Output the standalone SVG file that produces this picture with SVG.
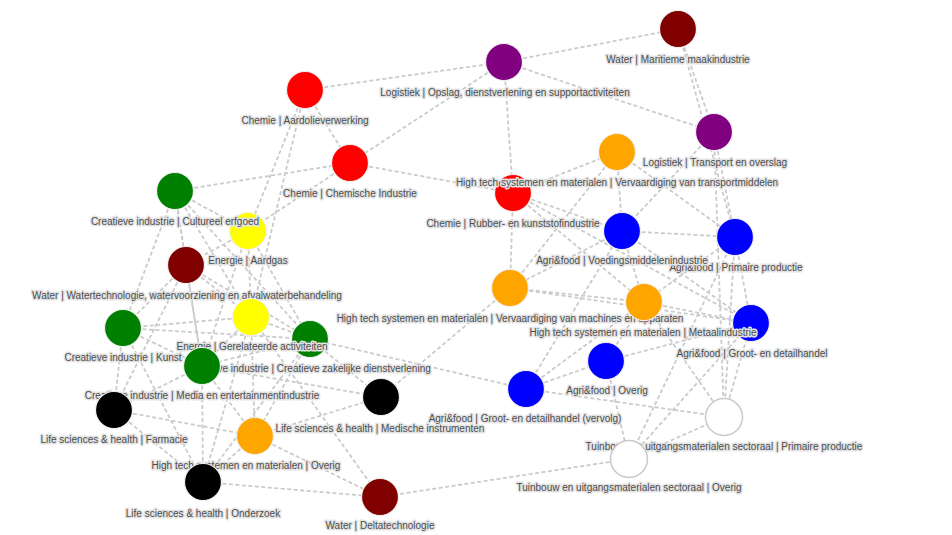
<svg xmlns="http://www.w3.org/2000/svg" width="952" height="535" viewBox="0 0 952 535">
<style>
.e line{stroke:#cbcbcb;stroke-width:1.8;stroke-dasharray:4 2.5;fill:none}
.n circle{stroke:#f0f0f0;stroke-width:1.2}
.n text{font-family:"Liberation Sans",Arial,sans-serif;font-size:10px;fill:#4d4d4d;text-anchor:middle;stroke:#e3e3e3;stroke-width:3;stroke-linejoin:round;paint-order:stroke}
.red{fill:#ff0000}.pur{fill:#800080}.mar{fill:#800000}.grn{fill:#008000}.yel{fill:#ffff00}.blu{fill:#0000ff}.ora{fill:#ffa500}.blk{fill:#000000}
.wht{fill:#ffffff;stroke:#c8c8c8 !important;stroke-width:1.5 !important}
</style>
<rect width="952" height="535" fill="#ffffff"/>
<g id="connectors" class="e">
<line x1="305" y1="90" x2="504" y2="62"/>
<line x1="305" y1="90" x2="350" y2="163"/>
<line x1="305" y1="90" x2="248" y2="231"/>
<line x1="305" y1="90" x2="251" y2="317"/>
<line x1="175" y1="191" x2="350" y2="163"/>
<line x1="504" y1="62" x2="350" y2="163"/>
<line x1="504" y1="62" x2="513" y2="193"/>
<line x1="504" y1="62" x2="678" y2="29"/>
<line x1="504" y1="62" x2="714" y2="132"/>
<line x1="678" y1="29" x2="714" y2="132"/>
<line x1="678" y1="29" x2="735" y2="237"/>
<line x1="714" y1="132" x2="735" y2="237"/>
<line x1="714" y1="132" x2="724" y2="417"/>
<line x1="714" y1="132" x2="622" y2="231"/>
<line x1="350" y1="163" x2="513" y2="193"/>
<line x1="350" y1="163" x2="248" y2="231"/>
<line x1="513" y1="193" x2="617" y2="152"/>
<line x1="513" y1="193" x2="622" y2="231"/>
<line x1="513" y1="193" x2="510" y2="288"/>
<line x1="513" y1="193" x2="644" y2="302"/>
<line x1="513" y1="193" x2="751" y2="323"/>
<line x1="617" y1="152" x2="622" y2="231"/>
<line x1="617" y1="152" x2="735" y2="237"/>
<line x1="617" y1="152" x2="510" y2="288"/>
<line x1="622" y1="231" x2="735" y2="237"/>
<line x1="622" y1="231" x2="510" y2="288"/>
<line x1="622" y1="231" x2="644" y2="302"/>
<line x1="622" y1="231" x2="751" y2="323"/>
<line x1="735" y1="237" x2="644" y2="302"/>
<line x1="735" y1="237" x2="751" y2="323"/>
<line x1="735" y1="237" x2="724" y2="417"/>
<line x1="735" y1="237" x2="629" y2="459"/>
<line x1="510" y1="288" x2="644" y2="302"/>
<line x1="510" y1="288" x2="751" y2="323"/>
<line x1="644" y1="302" x2="751" y2="323"/>
<line x1="510" y1="288" x2="381" y2="397"/>
<line x1="526" y1="389" x2="606" y2="361"/>
<line x1="526" y1="389" x2="310" y2="339"/>
<line x1="526" y1="389" x2="724" y2="417"/>
<line x1="526" y1="389" x2="622" y2="231"/>
<line x1="526" y1="389" x2="644" y2="302"/>
<line x1="606" y1="361" x2="629" y2="459"/>
<line x1="606" y1="361" x2="751" y2="323"/>
<line x1="606" y1="361" x2="644" y2="302"/>
<line x1="629" y1="459" x2="751" y2="323"/>
<line x1="629" y1="459" x2="724" y2="417"/>
<line x1="629" y1="459" x2="380" y2="497"/>
<line x1="724" y1="417" x2="751" y2="323"/>
<line x1="724" y1="417" x2="644" y2="302"/>
<line x1="175" y1="191" x2="248" y2="231"/>
<line x1="175" y1="191" x2="186" y2="265"/>
<line x1="175" y1="191" x2="123" y2="328"/>
<line x1="175" y1="191" x2="251" y2="317"/>
<line x1="175" y1="191" x2="310" y2="339"/>
<line x1="175" y1="191" x2="202" y2="366"/>
<line x1="248" y1="231" x2="186" y2="265"/>
<line x1="248" y1="231" x2="251" y2="317"/>
<line x1="248" y1="231" x2="202" y2="366"/>
<line x1="248" y1="231" x2="310" y2="339"/>
<line x1="186" y1="265" x2="251" y2="317"/>
<line x1="186" y1="265" x2="310" y2="339"/>
<line x1="186" y1="265" x2="202" y2="366"/>
<line x1="186" y1="265" x2="114" y2="410"/>
<line x1="186" y1="265" x2="123" y2="328"/>
<line x1="251" y1="317" x2="310" y2="339"/>
<line x1="251" y1="317" x2="202" y2="366"/>
<line x1="251" y1="317" x2="123" y2="328"/>
<line x1="251" y1="317" x2="255" y2="436"/>
<line x1="251" y1="317" x2="203" y2="482"/>
<line x1="251" y1="317" x2="380" y2="497"/>
<line x1="123" y1="328" x2="310" y2="339"/>
<line x1="123" y1="328" x2="202" y2="366"/>
<line x1="123" y1="328" x2="114" y2="410"/>
<line x1="123" y1="328" x2="203" y2="482"/>
<line x1="310" y1="339" x2="202" y2="366"/>
<line x1="310" y1="339" x2="255" y2="436"/>
<line x1="310" y1="339" x2="203" y2="482"/>
<line x1="310" y1="339" x2="381" y2="397"/>
<line x1="202" y1="366" x2="114" y2="410"/>
<line x1="202" y1="366" x2="203" y2="482"/>
<line x1="202" y1="366" x2="255" y2="436"/>
<line x1="202" y1="366" x2="381" y2="397"/>
<line x1="114" y1="410" x2="255" y2="436"/>
<line x1="114" y1="410" x2="203" y2="482"/>
<line x1="255" y1="436" x2="203" y2="482"/>
<line x1="255" y1="436" x2="381" y2="397"/>
<line x1="255" y1="436" x2="380" y2="497"/>
<line x1="203" y1="482" x2="380" y2="497"/>
</g>
<g id="n-aardolie" class="n"><circle class="red" cx="305" cy="90" r="18.5"/><text x="305" y="124">Chemie | Aardolieverwerking</text></g>
<g id="n-opslag" class="n"><circle class="pur" cx="504" cy="62" r="18.5"/><text x="505" y="96">Logistiek | Opslag, dienstverlening en supportactiviteiten</text></g>
<g id="n-maritiem" class="n"><circle class="mar" cx="678" cy="29" r="18.5"/><text x="678" y="63">Water | Maritieme maakindustrie</text></g>
<g id="n-transport" class="n"><circle class="pur" cx="714" cy="132" r="18.5"/><text x="715" y="166">Logistiek | Transport en overslag</text></g>
<g id="n-chemische" class="n"><circle class="red" cx="350" cy="163" r="18.5"/><text x="350" y="197">Chemie | Chemische Industrie</text></g>
<g id="n-rubber" class="n"><circle class="red" cx="513" cy="193" r="18.5"/><text x="513" y="227">Chemie | Rubber- en kunststofindustrie</text></g>
<g id="n-transportmiddelen" class="n"><circle class="ora" cx="617" cy="152" r="18.5"/><text x="617" y="186">High tech systemen en materialen | Vervaardiging van transportmiddelen</text></g>
<g id="n-aardgas" class="n"><circle class="yel" cx="248" cy="231" r="18.5"/><text x="248" y="264">Energie | Aardgas</text></g>
<g id="n-erfgoed" class="n"><circle class="grn" cx="175" cy="191" r="18.5"/><text x="175" y="225">Creatieve industrie | Cultureel erfgoed</text></g>
<g id="n-watertech" class="n"><circle class="mar" cx="186" cy="265" r="18.5"/><text x="187" y="299">Water | Watertechnologie, watervoorziening en afvalwaterbehandeling</text></g>
<g id="n-primaire" class="n"><circle class="blu" cx="735" cy="237" r="18.5"/><text x="736" y="271">Agri&amp;food | Primaire productie</text></g>
<g id="n-voeding" class="n"><circle class="blu" cx="622" cy="231" r="18.5"/><text x="622" y="264">Agri&amp;food | Voedingsmiddelenindustrie</text></g>
<g id="n-machines" class="n"><circle class="ora" cx="510" cy="288" r="18.5"/><text x="510" y="322">High tech systemen en materialen | Vervaardiging van machines en apparaten</text></g>
<g id="n-groothandel" class="n"><circle class="blu" cx="751" cy="323" r="18.5"/><text x="752" y="357">Agri&amp;food | Groot- en detailhandel</text></g>
<g id="n-metaal" class="n"><circle class="ora" cx="644" cy="302" r="18.5"/><text x="643" y="336">High tech systemen en materialen | Metaalindustrie</text></g>
<g id="n-zakelijk" class="n"><circle class="grn" cx="310" cy="339" r="18.5"/><text x="308" y="372">Creatieve industrie | Creatieve zakelijke dienstverlening</text></g>
<g id="n-gerelateerd" class="n"><circle class="yel" cx="251" cy="317" r="18.5"/><text x="252" y="350">Energie | Gerelateerde activiteiten</text></g>
<g id="n-kunst" class="n"><circle class="grn" cx="123" cy="328" r="18.5"/><text x="123" y="361">Creatieve industrie | Kunst</text></g>
<g id="n-media" class="n"><circle class="grn" cx="202" cy="366" r="18.5"/><text x="202" y="399">Creatieve industrie | Media en entertainmentindustrie</text></g>
<g id="n-overig-agri" class="n"><circle class="blu" cx="606" cy="361" r="18.5"/><text x="607" y="394">Agri&amp;food | Overig</text></g>
<g id="n-vervolg" class="n"><circle class="blu" cx="526" cy="389" r="18.5"/><text x="525" y="422">Agri&amp;food | Groot- en detailhandel (vervolg)</text></g>
<g id="n-medisch" class="n"><circle class="blk" cx="381" cy="397" r="18.5"/><text x="380" y="432">Life sciences &amp; health | Medische instrumenten</text></g>
<g id="n-farmacie" class="n"><circle class="blk" cx="114" cy="410" r="18.5"/><text x="114" y="443">Life sciences &amp; health | Farmacie</text></g>
<g id="n-tuinbouw-primair" class="n"><circle class="wht" cx="724" cy="417" r="18.5"/><text x="724" y="450">Tuinbouw en uitgangsmaterialen sectoraal | Primaire productie</text></g>
<g id="n-tuinbouw-overig" class="n"><circle class="wht" cx="629" cy="459" r="18.5"/><text x="629" y="491">Tuinbouw en uitgangsmaterialen sectoraal | Overig</text></g>
<g id="n-hightech-overig" class="n"><circle class="ora" cx="255" cy="436" r="18.5"/><text x="246" y="469">High tech systemen en materialen | Overig</text></g>
<g id="n-onderzoek" class="n"><circle class="blk" cx="203" cy="482" r="18.5"/><text x="203" y="517">Life sciences &amp; health | Onderzoek</text></g>
<g id="n-delta" class="n"><circle class="mar" cx="380" cy="497" r="18.5"/><text x="380" y="529">Water | Deltatechnologie</text></g>
</svg>
